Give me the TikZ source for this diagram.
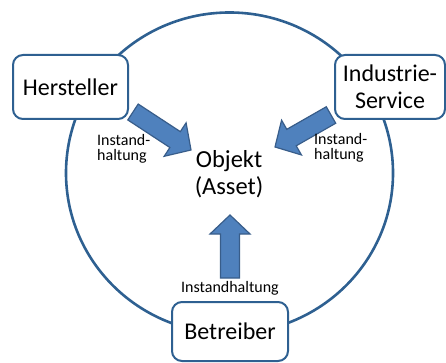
\documentclass[tikz,border=0pt]{standalone}
\usepackage{fontspec}
\setmainfont{Carlito}
\usetikzlibrary{calc}
\definecolor{ringblue}{RGB}{46,96,145}
\definecolor{arrowfill}{RGB}{79,129,189}
\definecolor{arrowline}{RGB}{56,93,138}
\tikzset{
  actor/.style={draw=ringblue, line width=2pt, fill=white, rounded corners=10pt,
    align=center, inner sep=0pt, font=\fontsize{24}{27}\selectfont},
  smalltext/.style={align=left, inner sep=0pt, font=\fontsize{16}{15}\selectfont},
  barrow/.style={draw=arrowline, fill=arrowfill, line width=1.2pt, line join=miter}
}
% block arrow from coordinate #1 (tail) to coordinate #2 (tip)
\newcommand\blockarrow[2]{%
  \coordinate (#1base) at ($(#2)!19pt!(#1)$);
  \draw[barrow]
    ($(#1)!9.5pt!90:(#2)$) -- ($(#1base)!9.5pt!90:(#2)$) --
    ($(#1base)!20pt!90:(#2)$) -- (#2) -- ($(#1base)!20pt!-90:(#2)$) --
    ($(#1base)!9.5pt!-90:(#2)$) -- ($(#1)!9.5pt!-90:(#2)$) -- cycle;
}
\begin{document}
\begin{tikzpicture}[x=1pt,y=-1pt]
\useasboundingbox (0,0) rectangle (446,363);
% ring
\draw[ringblue, line width=2.6pt] (229.5,173) ellipse [x radius=163.5, y radius=160.5];
% actors
\node[actor, minimum width=115pt, minimum height=64pt] (hersteller) at (70.5,87) {Hersteller};
\node[actor, minimum width=110pt, minimum height=64pt] (service) at (390,87) {Industrie-\\Service};
\node[actor, minimum width=116pt, minimum height=59pt] (betreiber) at (230,331.5) {Betreiber};
% object
\node[align=center, inner sep=0pt, font=\fontsize{24.5}{27}\selectfont] (obj) at (229,174) {Objekt\\(Asset)};
% arrows
\coordinate (t1) at (133,112); \coordinate (h1) at (191,150);
\coordinate (t2) at (331,115); \coordinate (h2) at (275,147);
\coordinate (t3) at (230,278); \coordinate (h3) at (230,215);
\blockarrow{t1}{h1}
\blockarrow{t2}{h2}
\blockarrow{t3}{h3}
% labels
\node[smalltext, anchor=west] (l1) at (97,149) {Instand-\\haltung};
\node[smalltext, anchor=west] (l2) at (314,148) {Instand-\\haltung};
\node[smalltext] (l3) at (230,288) {Instandhaltung};
\end{tikzpicture}
\end{document}
